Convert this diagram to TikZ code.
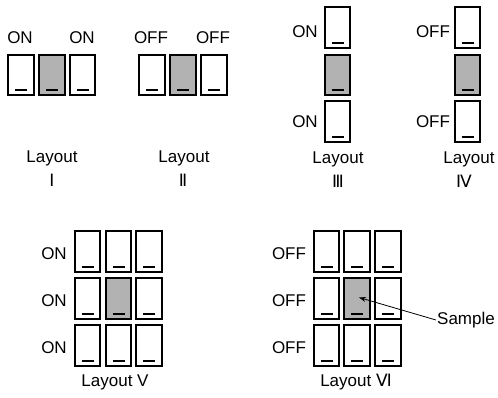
\documentclass[tikz,border=0pt]{standalone}
\usepackage{fontspec}
\setmainfont{Liberation Sans}
\newfontfamily\romfont{DejaVu Sans}
\usepackage{tikz}
\usetikzlibrary{arrows.meta,positioning,calc}

\tikzset{
    switch/.style={draw=black, line width=2pt, inner sep=0pt,
        minimum width=25.5pt, minimum height=40.5pt,
        path picture={\draw[line width=2pt]
            ([xshift=-6pt,yshift=5pt]path picture bounding box.south) -- ++(12pt,0);}},
    sample/.style={switch, fill=black!30},
    lbl/.style={font=\fontsize{17}{20}\selectfont, inner sep=1pt},
}

\begin{document}
\begin{tikzpicture}[x=1pt, y=-1pt]
    \useasboundingbox (0,0) rectangle (498,398);

    % Layout I: one row, ON
    \node[switch] (a1) at (21,75) {};
    \node[sample] (a2) at (52,75) {};
    \node[switch] (a3) at (82.5,75) {};
    \node[lbl] (a1on) at (20,38) {ON};
    \node[lbl] (a3on) at (82,38) {ON};
    \node[lbl] (atxt) at (52,158) {Layout};
    \node[lbl] (anum) at (52,180) {\romfont Ⅰ};

    % Layout II: one row, OFF
    \node[switch] (b1) at (152,75) {};
    \node[sample] (b2) at (183,75) {};
    \node[switch] (b3) at (214,75) {};
    \node[lbl] (b1off) at (151,38) {OFF};
    \node[lbl] (b3off) at (213,38) {OFF};
    \node[lbl] (btxt) at (184,158) {Layout};
    \node[lbl] (bnum) at (183,180) {\romfont Ⅱ};

    % Layout III: one column, ON
    \node[switch] (c1) at (337.5,27.5) {};
    \node[sample] (c2) at (337.5,75) {};
    \node[switch] (c3) at (337.5,121.5) {};
    \node[lbl] (c1on) at (305,32) {ON};
    \node[lbl] (c3on) at (305,122) {ON};
    \node[lbl] (ctxt) at (338,159) {Layout};
    \node[lbl] (cnum) at (338,181) {\romfont Ⅲ};

    % Layout IV: one column, OFF
    \node[switch] (d1) at (467.5,27.5) {};
    \node[sample] (d2) at (467.5,75) {};
    \node[switch] (d3) at (467.5,121.5) {};
    \node[lbl] (d1off) at (433,32) {OFF};
    \node[lbl] (d3off) at (433,122) {OFF};
    \node[lbl] (dtxt) at (469,159) {Layout};
    \node[lbl] (dnum) at (464,181) {\romfont Ⅳ};

    % Layout V: 3x3, ON
    \foreach \r/\y in {1/251.5, 2/298.5, 3/345.5} {
        \foreach \c/\x in {1/87.5, 2/118.5, 3/149} {
            \node[switch] (e\r\c) at (\x,\y) {};
        }
        \node[lbl] (e\r on) at (54,\y+2) {ON};
    }
    \node[sample] at (e22) {};
    \node[lbl] (etxt) at (115,382) {Layout V};

    % Layout VI: 3x3, OFF
    \foreach \r/\y in {1/251.5, 2/298.5, 3/345.5} {
        \foreach \c/\x in {1/326.5, 2/357, 3/388} {
            \node[switch] (f\r\c) at (\x,\y) {};
        }
        \node[lbl] (f\r off) at (289,\y+2) {OFF};
    }
    \node[sample] at (f22) {};
    \node[lbl] (ftxt) at (356,382) {Layout {\romfont Ⅵ}};

    % Sample pointer
    \node[lbl] (smp) at (466,320) {Sample};
    \draw[-{Stealth[length=7pt,width=5pt]}, line width=0.8pt]
        (smp.west) -- ([xshift=2pt,yshift=1pt]f22.center);
\end{tikzpicture}
\end{document}
